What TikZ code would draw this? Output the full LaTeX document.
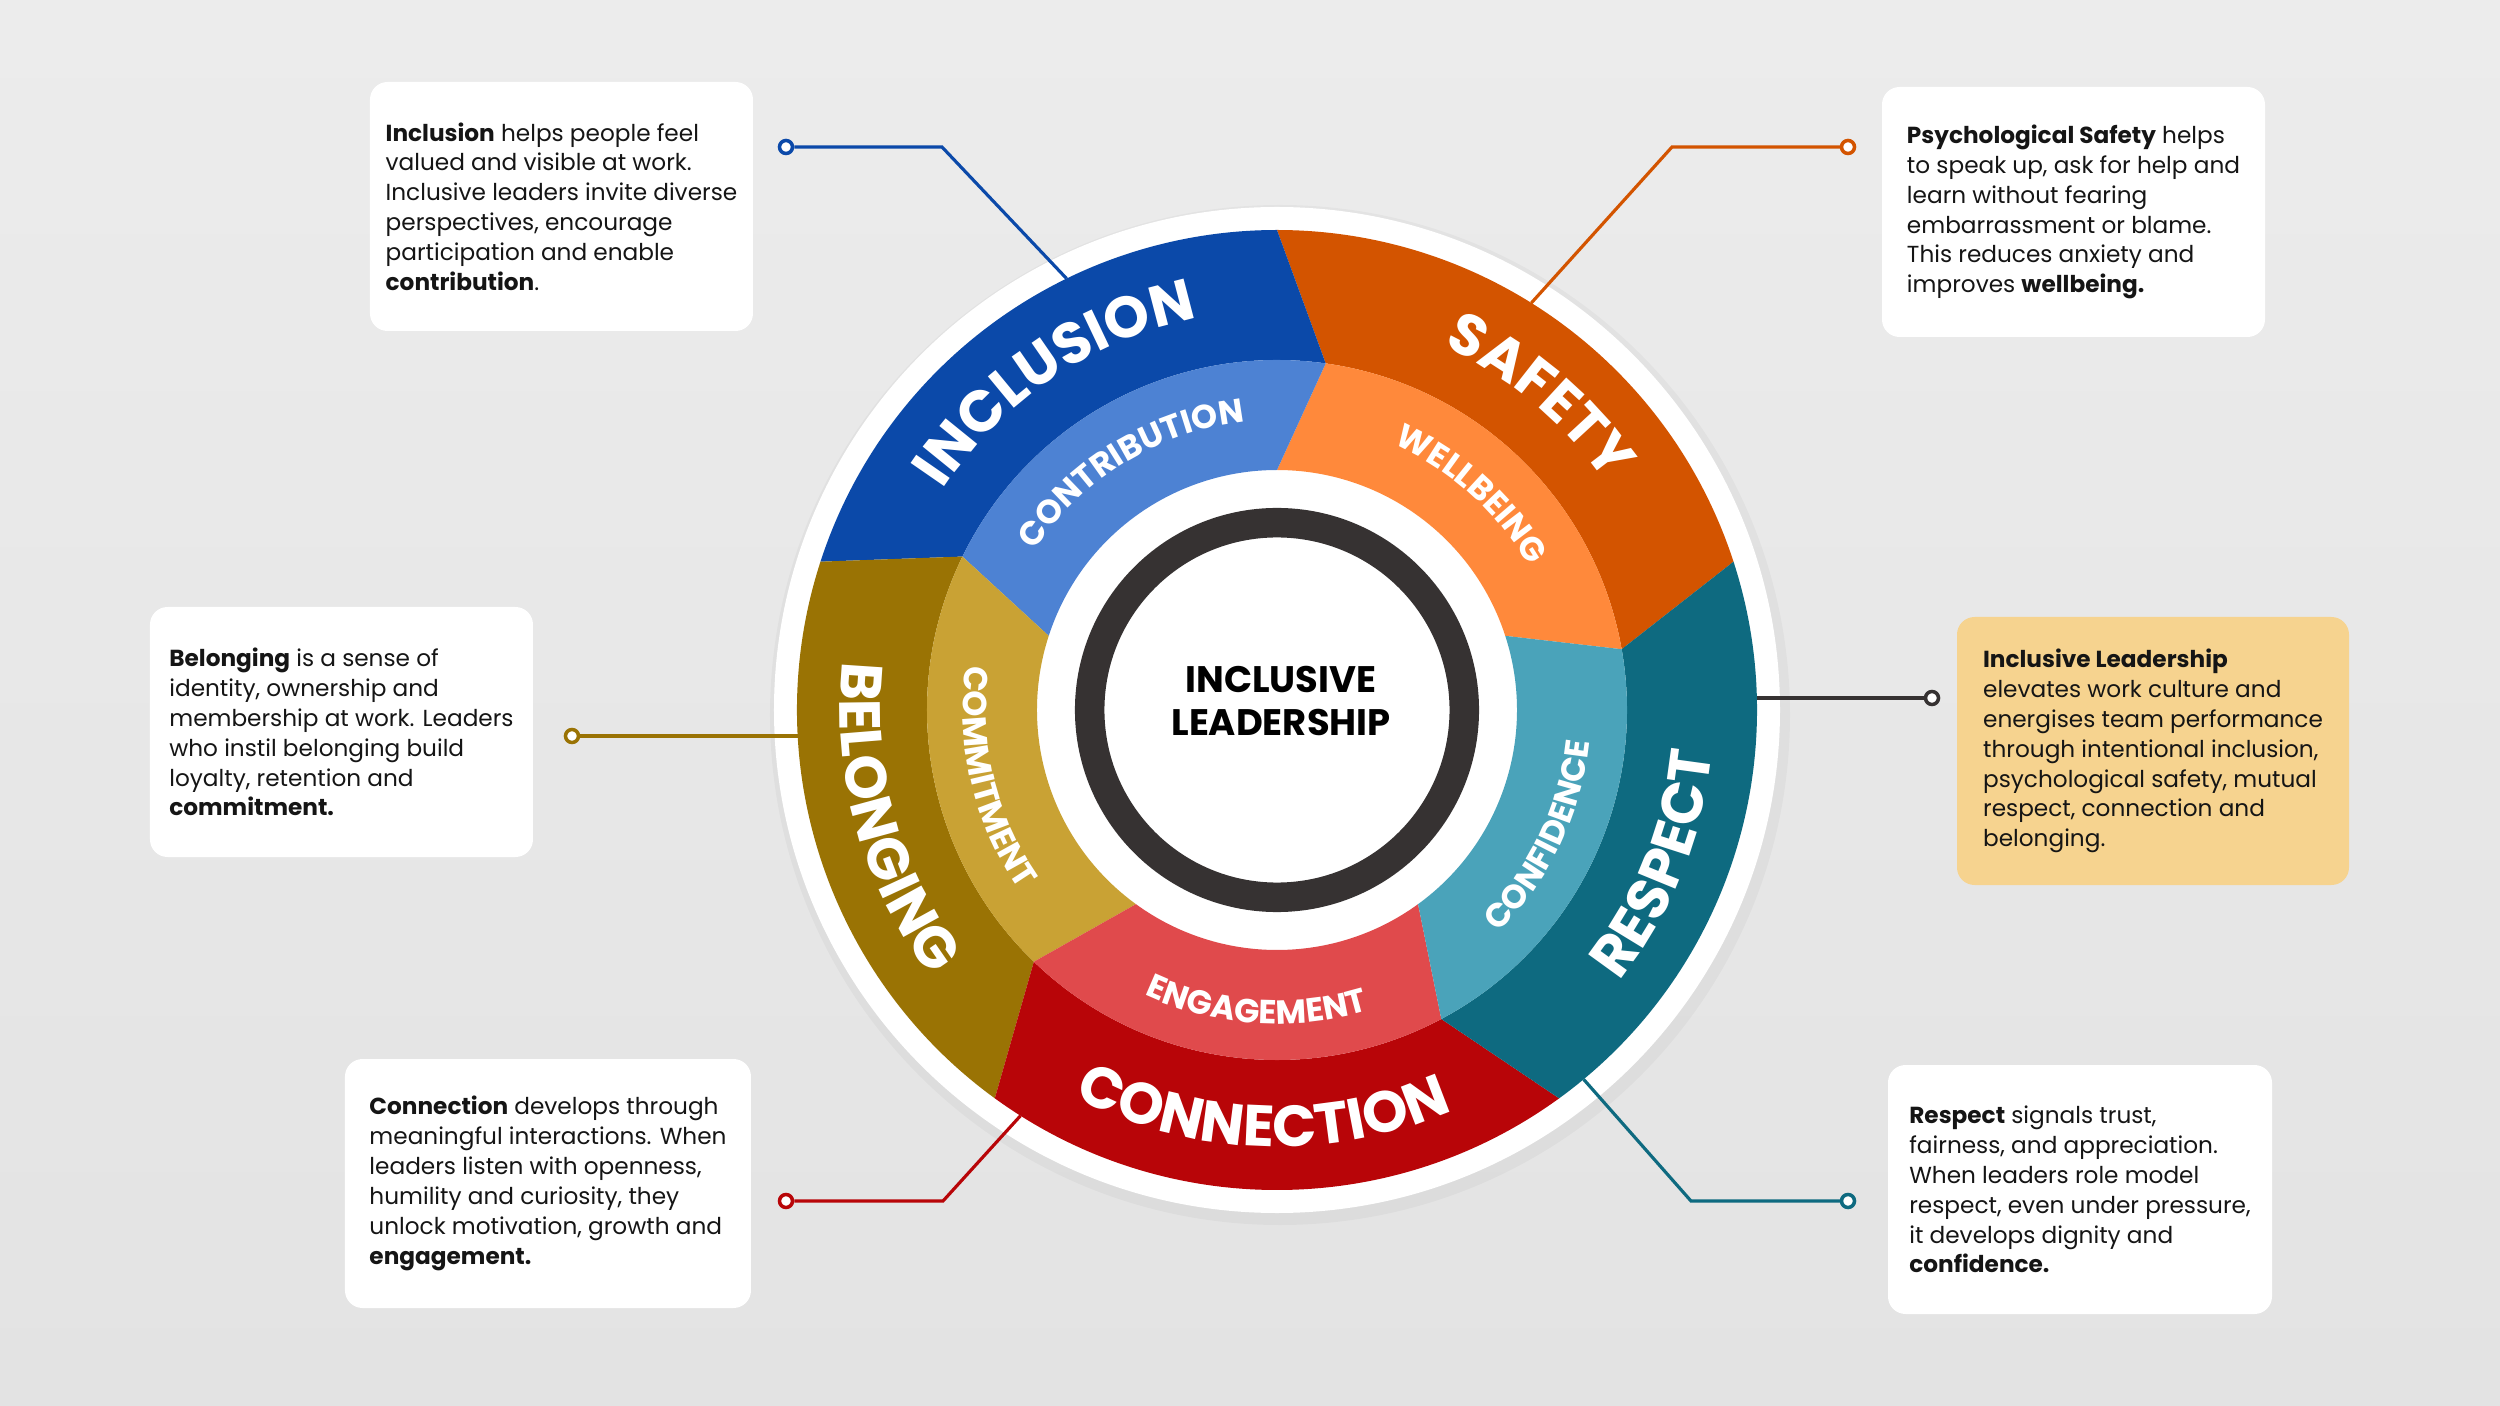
\documentclass[tikz,border=0pt]{standalone}
\usepackage{fontspec}
\setmainfont{Poppins}
\usepackage{tikz}
\usetikzlibrary{positioning, decorations.text}

\definecolor{bgTop}{HTML}{ECECEC}
\definecolor{bgMid}{HTML}{EFEFEF}
\definecolor{bgBot}{HTML}{E3E3E3}
\definecolor{inclDark}{HTML}{0B49A9}
\definecolor{inclLight}{HTML}{4D82D3}
\definecolor{safeDark}{HTML}{D35400}
\definecolor{safeLight}{HTML}{FF893B}
\definecolor{respDark}{HTML}{0E6A80}
\definecolor{respLight}{HTML}{4AA3BA}
\definecolor{connDark}{HTML}{B80508}
\definecolor{connLight}{HTML}{E04A4C}
\definecolor{belDark}{HTML}{9A7304}
\definecolor{belLight}{HTML}{C9A234}
\definecolor{ringGrey}{HTML}{363232}
\definecolor{leadFill}{HTML}{F6D38F}
\definecolor{bodyText}{HTML}{151515}

\newcommand{\bigfont}{\fontsize{16.5}{16.5}\selectfont\bfseries}
\newcommand{\smallfont}{\fontsize{9.5}{9.5}\selectfont\bfseries}

\begin{document}
\begin{tikzpicture}[
            infobox/.style={rounded corners=5pt, fill=white, align=left, text=bodyText,
                font=\fontsize{6.6}{8.5}\selectfont, inner sep=0pt},
            dot/.style={circle, draw, line width=1pt, fill=white, inner sep=0pt, minimum size=0.13cm},
            link/.style={line width=0.9pt},
            bigword/.style={decorate, decoration={text along path, text align=center,
                text color=white, text={|\bigfont|#1}}},
            smallword/.style={decorate, decoration={text along path, text align=center,
                text color=white, text={|\smallfont|#1}}},
        ]
            \useasboundingbox (-12.77,-6.96) rectangle (12.23,7.10);
            \fill[top color=bgTop, middle color=bgMid, bottom color=bgBot] (-12.77,-6.96) rectangle (12.23,7.10);

            \fill[black, opacity=0.03] (0.03,-0.05) circle (5.1);
            \fill[white] (0,0) circle (5.03);

            \fill[safeDark] (18:4.8) arc[start angle=18, end angle=90, radius=4.8] -- (82:3.5) arc[start angle=82, end angle=10, radius=3.5] -- cycle;
            \fill[safeLight] (10:3.5) arc[start angle=10, end angle=82, radius=3.5] -- (90:2.4) arc[start angle=90, end angle=18, radius=2.4] -- cycle;
            \fill[inclDark] (90:4.8) arc[start angle=90, end angle=162, radius=4.8] -- (154:3.5) arc[start angle=154, end angle=82, radius=3.5] -- cycle;
            \fill[inclLight] (82:3.5) arc[start angle=82, end angle=154, radius=3.5] -- (162:2.4) arc[start angle=162, end angle=90, radius=2.4] -- cycle;
            \fill[belDark] (162:4.8) arc[start angle=162, end angle=234, radius=4.8] -- (226:3.5) arc[start angle=226, end angle=154, radius=3.5] -- cycle;
            \fill[belLight] (154:3.5) arc[start angle=154, end angle=226, radius=3.5] -- (234:2.4) arc[start angle=234, end angle=162, radius=2.4] -- cycle;
            \fill[connDark] (234:4.8) arc[start angle=234, end angle=306, radius=4.8] -- (298:3.5) arc[start angle=298, end angle=226, radius=3.5] -- cycle;
            \fill[connLight] (226:3.5) arc[start angle=226, end angle=298, radius=3.5] -- (306:2.4) arc[start angle=306, end angle=234, radius=2.4] -- cycle;
            \fill[respDark] (306:4.8) arc[start angle=306, end angle=378, radius=4.8] -- (370:3.5) arc[start angle=370, end angle=298, radius=3.5] -- cycle;
            \fill[respLight] (298:3.5) arc[start angle=298, end angle=370, radius=3.5] -- (378:2.4) arc[start angle=378, end angle=306, radius=2.4] -- cycle;

            \draw[ringGrey, line width=0.295cm] (0,0) circle (1.873);
            \node[font=\fontsize{10.5}{12.2}\selectfont\bfseries, align=center] (core) at (0.04,0.09) {INCLUSIVE\\LEADERSHIP};

            \path[bigword=INCLUSION] (169:4.0) arc[start angle=169, end angle=79, radius=4.0];
            \path[bigword=SAFETY] (95:4.0) arc[start angle=95, end angle=5, radius=4.0];
            \path[bigword=RESPECT] (-67:4.37) arc[start angle=-67, end angle=23, radius=4.37];
            \path[bigword=CONNECTION] (-137:4.37) arc[start angle=-137, end angle=-47, radius=4.37];
            \path[bigword=BELONGING] (150.6:4.37) arc[start angle=150.6, end angle=240.6, radius=4.37];

            \path[smallword=CONTRIBUTION] (166.5:2.9) arc[start angle=166.5, end angle=76.5, radius=2.9];
            \path[smallword=WELLBEING] (93:2.9) arc[start angle=93, end angle=3, radius=2.9];
            \path[smallword=CONFIDENCE] (-70.5:3.14) arc[start angle=-70.5, end angle=19.5, radius=3.14];
            \path[smallword=ENGAGEMENT] (-139:3.14) arc[start angle=-139, end angle=-49, radius=3.14];
            \path[smallword=COMMITMENT] (148.4:3.14) arc[start angle=148.4, end angle=238.4, radius=3.14];

            \coordinate (inclBend) at (-3.35,5.63);
            \coordinate (inclEnd) at (116:4.8);
            \coordinate (safeBend) at (3.95,5.63);
            \coordinate (safeEnd) at (58:4.8);
            \coordinate (belEnd) at (-4.79,-0.26);
            \coordinate (leadEnd) at (4.80,0.12);
            \coordinate (connBend) at (-3.34,-4.91);
            \coordinate (connEnd) at (-122.3:4.8);
            \coordinate (respBend) at (4.14,-4.91);
            \coordinate (respEnd) at (-50.3:4.8);

            \node[dot, draw=inclDark] (inclDot) at (-4.91,5.63) {};
            \node[dot, draw=safeDark] (safeDot) at (5.71,5.63) {};
            \node[dot, draw=belDark] (belDot) at (-7.05,-0.26) {};
            \node[dot, draw=ringGrey] (leadDot) at (6.55,0.12) {};
            \node[dot, draw=connDark] (connDot) at (-4.91,-4.91) {};
            \node[dot, draw=respDark] (respDot) at (5.71,-4.91) {};

            \draw[link, inclDark] (inclDot) -- (inclBend) -- (inclEnd);
            \draw[link, safeDark] (safeDot) -- (safeBend) -- (safeEnd);
            \draw[link, belDark] (belDot) -- (belEnd);
            \draw[link, ringGrey] (leadEnd) -- (leadDot);
            \draw[link, connDark] (connDot) -- (connBend) -- (connEnd);
            \draw[link, respDark] (respDot) -- (respBend) -- (respEnd);

            \node[infobox, minimum width=3.83cm, minimum height=2.49cm] (inclBox) at (-7.155,5.035) {\textbf{Inclusion} helps people feel\\valued and visible at work.\\Inclusive leaders invite diverse\\perspectives, encourage\\participation and enable\\\textbf{contribution}.};
            \node[infobox, minimum width=3.83cm, minimum height=2.50cm] (safeBox) at (7.965,4.98) {\textbf{Psychological Safety} helps\\to speak up, ask for help and\\learn without fearing\\embarrassment or blame.\\This reduces anxiety and\\improves \textbf{wellbeing.}};
            \node[infobox, minimum width=3.83cm, minimum height=2.50cm] (belBox) at (-9.355,-0.22) {\textbf{Belonging} is a sense of\\identity, ownership and\\membership at work. Leaders\\who instil belonging build\\loyalty, retention and\\\textbf{commitment.}};
            \node[infobox, fill=leadFill, minimum width=3.92cm, minimum height=2.68cm] (leadBox) at (8.76,-0.41) {\textbf{Inclusive Leadership}\\elevates work culture and\\energises team performance\\through intentional inclusion,\\psychological safety, mutual\\respect, connection and\\belonging.};
            \node[infobox, minimum width=4.06cm, minimum height=2.49cm] (connBox) at (-7.29,-4.735) {\textbf{Connection} develops through\\meaningful interactions. When\\leaders listen with openness,\\humility and curiosity, they\\unlock motivation, growth and\\\textbf{engagement.}};
            \node[infobox, minimum width=3.84cm, minimum height=2.49cm] (respBox) at (8.03,-4.795) {\textbf{Respect} signals trust,\\fairness, and appreciation.\\When leaders role model\\respect, even under pressure,\\it develops dignity and\\\textbf{confidence.}};
        \end{tikzpicture}
\end{document}
